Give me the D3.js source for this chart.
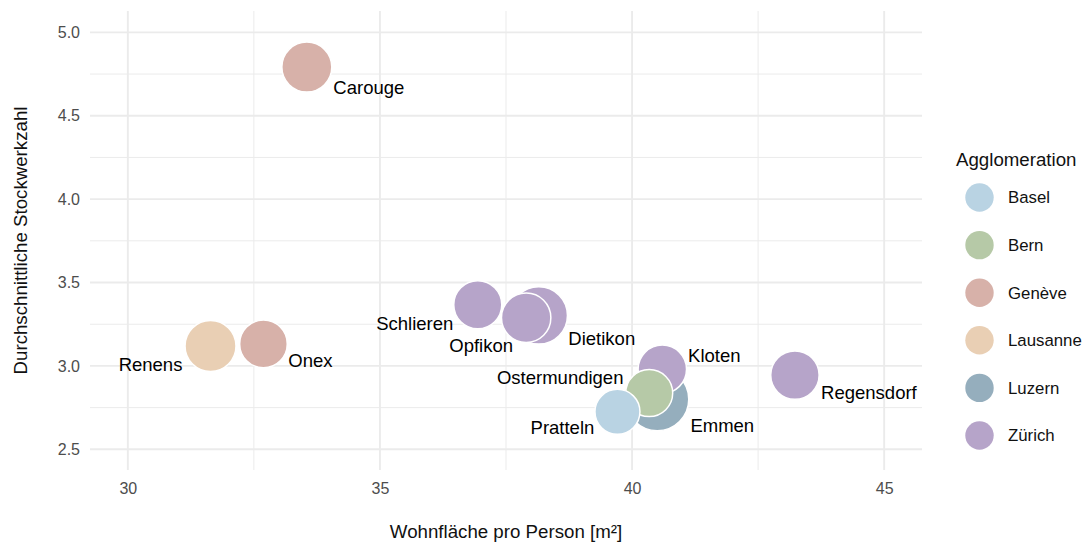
<!DOCTYPE html>
<html>
<head>
<meta charset="utf-8">
<script src="https://cdn.jsdelivr.net/npm/d3@7"></script>
<style>
  body { margin: 0; background: #fff; }
  svg { font-family: "Liberation Sans", Arial, Helvetica, sans-serif; }
  .grid line { stroke: #ebebeb; }
  .axis text { fill: #4d4d4d; font-size: 16px; }
</style>
</head>
<body>
<svg width="1085" height="542"></svg>
<script>
// gemeinden
const gemeinden    = ["Emmen", "Dietikon", "Renens", "Carouge", "Opfikon", "Kloten",
                      "Regensdorf", "Schlieren", "Onex", "Ostermundigen", "Pratteln"];
const agglo        = ["Luzern", "Zürich", "Lausanne", "Genève", "Zürich", "Zürich",
                      "Zürich", "Zürich", "Genève", "Bern", "Basel"];
const wohnflaeche  = [40.50, 38.15, 31.64, 33.55, 37.90, 40.60, 43.23, 36.94, 32.69, 40.34, 39.71];
const stockwerke   = [2.80, 3.303, 3.12, 4.792, 3.289, 2.98, 2.945, 3.367, 3.132, 2.837, 2.725];
const einwohner    = [31000, 25700, 20300, 19500, 19050, 18300, 18300, 18000, 17700, 17250, 15800];

const agglomerationen = ["Basel", "Bern", "Genève", "Lausanne", "Luzern", "Zürich"];
const farben = ["#b9d3e3", "#b6c9a7", "#d7b1a9", "#e9cfb4", "#95aebd", "#b6a4c9"];

const xTicks = [30, 35, 40, 45];
const yTicks = [2.5, 3.0, 3.5, 4.0, 4.5, 5.0];

// label offsets in px (like ggrepel would place them)
const labelOffset = {
  Carouge: [62, 20], Renens: [-60, 19], Onex: [47, 17], Schlieren: [-63, 19],
  Opfikon: [-45, 28], Dietikon: [63, 23], Kloten: [52, -14], Ostermundigen: [-89, -16],
  Emmen: [65, 26], Pratteln: [-55, 16], Regensdorf: [74, 17]
};

const svg = d3.select("svg");
const panel = {left: 90, right: 922, top: 11, bottom: 470};

const x = d3.scaleLinear().domain([29.25, 45.75]).range([panel.left, panel.right]);
const y = d3.scaleLinear().domain([2.376, 5.128]).range([panel.bottom, panel.top]);
const r = d3.scaleSqrt().domain([0, d3.max(einwohner)]).range([0, 31.5]);
const color = d3.scaleOrdinal().domain(agglomerationen).range(farben);

// grid, minor first then major
const xMinor = d3.range(27.5, 46, 5).filter(v => v > x.domain()[0] && v < x.domain()[1]);
const yMinor = d3.range(2.25, 5.3, 0.5).filter(v => v > y.domain()[0] && v < y.domain()[1]);

const grid = svg.append("g").attr("class", "grid");
grid.selectAll(".vmin").data(xMinor).enter().append("line")
  .attr("x1", d => x(d)).attr("x2", d => x(d))
  .attr("y1", panel.top).attr("y2", panel.bottom)
  .attr("stroke-width", 1);
grid.selectAll(".hmin").data(yMinor).enter().append("line")
  .attr("y1", d => y(d)).attr("y2", d => y(d))
  .attr("x1", panel.left).attr("x2", panel.right)
  .attr("stroke-width", 1);
grid.selectAll(".vmaj").data(xTicks).enter().append("line")
  .attr("x1", d => x(d)).attr("x2", d => x(d))
  .attr("y1", panel.top).attr("y2", panel.bottom)
  .attr("stroke-width", 1.9);
grid.selectAll(".hmaj").data(yTicks).enter().append("line")
  .attr("y1", d => y(d)).attr("y2", d => y(d))
  .attr("x1", panel.left).attr("x2", panel.right)
  .attr("stroke-width", 1.9);

// axes: text only
const xAxis = svg.append("g")
  .attr("class", "axis")
  .attr("transform", "translate(0," + (panel.bottom + 8) + ")")
  .call(d3.axisBottom(x).tickValues(xTicks).tickSize(0).tickPadding(5).tickFormat(d3.format("d")));
const yAxis = svg.append("g")
  .attr("class", "axis")
  .attr("transform", "translate(" + (panel.left - 10) + ",0)")
  .call(d3.axisLeft(y).tickValues(yTicks).tickSize(0).tickPadding(0).tickFormat(d3.format(".1f")));
svg.selectAll(".axis .domain").remove();
xAxis.selectAll("text").attr("dy", "0.71em").attr("font-family", null).attr("font-size", null);
yAxis.selectAll("text").attr("font-family", null).attr("font-size", null);

// axis titles
svg.append("text")
  .attr("x", (panel.left + panel.right) / 2).attr("y", 531)
  .attr("dy", "0.35em").attr("text-anchor", "middle")
  .attr("font-size", 18.7).attr("fill", "#111")
  .text("Wohnfläche pro Person [m²]");
svg.append("text")
  .attr("transform", "translate(20," + (panel.top + panel.bottom) / 2 + ") rotate(-90)")
  .attr("dy", "0.35em").attr("text-anchor", "middle")
  .attr("font-size", 18.7).attr("fill", "#111")
  .text("Durchschnittliche Stockwerkzahl");

// points, biggest first so the small ones sit on top
const rows = gemeinden.map((g, i) => ({
  name: g, agglo: agglo[i], wf: wohnflaeche[i], sw: stockwerke[i], pop: einwohner[i]
})).sort((a, b) => b.pop - a.pop);

svg.append("g").selectAll("circle").data(rows).enter().append("circle")
  .attr("cx", d => x(d.wf))
  .attr("cy", d => y(d.sw))
  .attr("r", d => r(d.pop))
  .attr("fill", d => color(d.agglo))
  .attr("stroke", "#fff")
  .attr("stroke-width", 1.5);

svg.append("g").selectAll("text").data(rows).enter().append("text")
  .attr("x", d => x(d.wf) + labelOffset[d.name][0])
  .attr("y", d => y(d.sw) + labelOffset[d.name][1])
  .attr("dy", "0.35em")
  .attr("text-anchor", "middle")
  .attr("font-size", 18.5)
  .attr("fill", "#000")
  .text(d => d.name);

// legend
const legend = svg.append("g").attr("transform", "translate(956,0)");
legend.append("text")
  .attr("x", 0).attr("y", 159).attr("dy", "0.35em")
  .attr("font-size", 18.7).attr("fill", "#111")
  .text("Agglomeration");
const item = legend.selectAll(".item").data(agglomerationen).enter().append("g")
  .attr("transform", (d, i) => "translate(0," + (197.5 + i * 47.6) + ")");
item.append("circle")
  .attr("cx", 23.5).attr("cy", 0).attr("r", 14.2)
  .attr("fill", d => color(d));
item.append("text")
  .attr("x", 52).attr("y", 0).attr("dy", "0.35em")
  .attr("font-size", 16.8).attr("fill", "#111")
  .text(d => d);
</script>
</body>
</html>
